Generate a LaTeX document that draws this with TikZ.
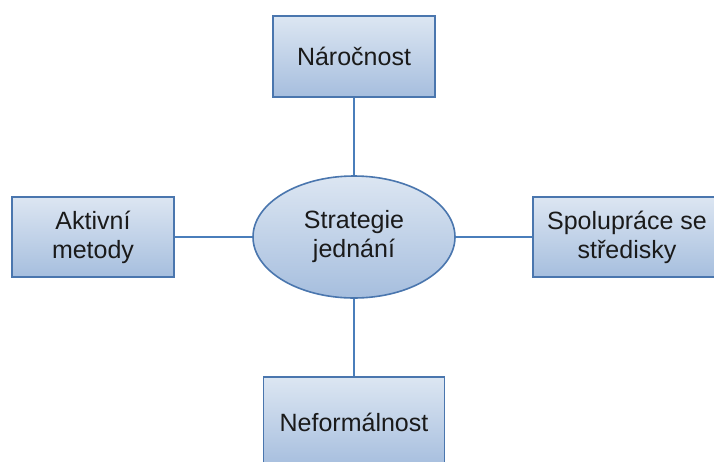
\documentclass[tikz,border=0pt]{standalone}
\usepackage{fontspec}
\setmainfont{Liberation Sans}
\usetikzlibrary{shapes.geometric}
\definecolor{edgeblue}{HTML}{4A76AE}
\definecolor{linkblue}{HTML}{4A7EBB}
\definecolor{filltop}{HTML}{DCE6F2}
\definecolor{fillbot}{HTML}{A6BEDE}
\definecolor{labeltext}{HTML}{1A1A1A}
\begin{document}
\begin{tikzpicture}[x=1pt,y=1pt,
  shape base/.style={draw=edgeblue, line width=1.6pt, top color=filltop,
    bottom color=fillbot, align=center, text=labeltext, inner sep=0pt,
    font=\fontsize{25}{29}\selectfont},
  topic/.style={shape base, rectangle},
  hub/.style={shape base, ellipse, minimum width=202pt, minimum height=122pt},
  link/.style={draw=linkblue, line width=1.6pt}]
\useasboundingbox (0,0) rectangle (714,-461);
% central topic
\node[hub] (hub) at (354,-237) {Strategie\\jednání};
% surrounding topics
\node[topic, minimum width=162pt, minimum height=81pt] (top) at (354,-56.5) {Náročnost};
\node[topic, minimum width=162pt, minimum height=80pt] (left) at (93,-237) {Aktivní\\metody};
\node[topic, minimum width=188pt, minimum height=80pt] (right) at (627,-237) {Spolupráce se\\středisky};
\node[topic, minimum width=181pt, minimum height=90pt] (bottom) at (354,-422) {Neformálnost};
% connectors
\draw[link] (hub.north) -- (top.south);
\draw[link] (hub.south) -- (bottom.north);
\draw[link] (hub.west) -- (left.east);
\draw[link] (hub.east) -- (right.west);
\end{tikzpicture}
\end{document}
